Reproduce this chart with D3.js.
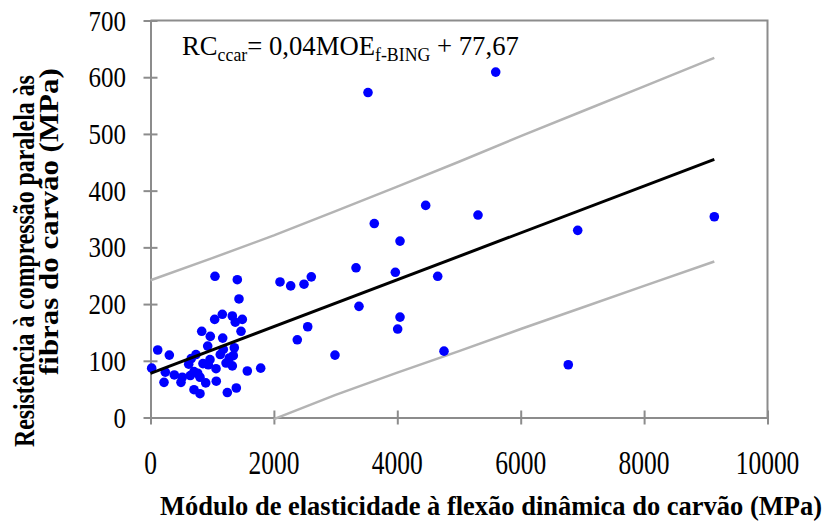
<!DOCTYPE html>
<html>
<head>
<meta charset="utf-8">
<script src="https://cdn.jsdelivr.net/npm/d3@7"></script>
<style>
  body { margin: 0; background: #fff; }
  text { font-family: "Liberation Serif", "Times New Roman", serif; fill: #000; }
</style>
</head>
<body>
<div id="chart"></div>
<script>
// values (MOE in MPa, RC in MPa)
var moe = [1045, 1407, 1434, 1164, 1040, 1326, 1374, 1488, 830, 1467, 969, 1170,
           117, 305, 927, 1358, 1342, 737, 1131, 661, 1277, 964, 619, 19, 937, 1224,
           1326, 1062, 1569, 1786, 240, 386, 515, 645, 765, 802, 219, 494, 895, 1066,
           705, 802, 1245, 1391, 705, 1180, 850,
           4460, 5308, 3627, 4044, 3331, 3968, 4655, 2099, 2272, 2488, 2606, 3379,
           4044, 4006, 2548, 2379, 2990, 4757, 5595, 3525, 6924, 9138, 6771];
var rc  = [249, 243, 209, 182, 173, 179, 168, 173, 152, 152, 143, 140,
           119, 110, 126, 123, 109, 111, 111, 104, 105, 102, 94, 87, 93, 96,
           91, 86, 82, 87, 80, 75, 71, 74, 78, 71, 62, 62, 61, 64,
           49, 42, 44, 52, 81, 120, 95,
           374, 357, 342, 311, 264, 256, 249, 239, 232, 235, 248, 196,
           177, 156, 160, 137, 110, 117, 609, 573, 330, 354, 93];

// regression RC = 0,04 MOE + 77,67
var fitIntercept = 77.67;
var fitSlope = 0.0413;
var fitRange = [0, 9138];

// prediction band
var bandX     = [0, 1000, 2000, 3000, 4000, 5000, 6000, 7000, 8000, 9138];
var bandUpper = [242, 281, 321, 364, 407, 451, 496, 540, 584, 634];
var bandLowX  = [2000, 3000, 4000, 5000, 6000, 7000, 8000, 9138];
var bandLower = [-3, 40, 79, 117, 156, 194, 232, 275];

var xTicks = [0, 2000, 4000, 6000, 8000, 10000];
var yTicks = [0, 100, 200, 300, 400, 500, 600, 700];

var W = 827, H = 521;
var svg = d3.select("#chart").append("svg").attr("width", W).attr("height", H);

var x = d3.scaleLinear().domain([0, 10000]).range([150.5, 767.5]);
var y = d3.scaleLinear().domain([0, 700]).range([417.5, 20.5]);

var axisCol = "#8c8c8c";

// frame top + right
svg.append("path")
   .attr("d", "M" + x(0) + "," + y(700) + "H" + x(10000) + "V" + y(0))
   .style("fill", "none").style("stroke", axisCol).style("stroke-width", 2);

// axes with ticks crossing the line
var xAxis = d3.axisBottom(x).tickValues(xTicks).tickSizeInner(14).tickSizeOuter(0).tickFormat("");
var yAxis = d3.axisLeft(y).tickValues(yTicks).tickSizeInner(14).tickSizeOuter(0).tickFormat("");

var gx = svg.append("g").attr("transform", "translate(0," + y(0) + ")").call(xAxis);
gx.selectAll(".tick line").attr("y1", -7).attr("y2", 7);
var gy = svg.append("g").attr("transform", "translate(" + x(0) + ",0)").call(yAxis);
gy.selectAll(".tick line").attr("x1", -7).attr("x2", 7);
svg.selectAll(".domain, .tick line").style("stroke", axisCol).style("stroke-width", 2);

// tick labels (glyphs in the picture are stretched vertically)
yTicks.forEach(function (v) {
  svg.append("text")
     .attr("transform", "translate(126," + (y(v) + 10) + ") scale(1,1.16)")
     .attr("text-anchor", "end").style("font-size", "25px")
     .text(v);
});
xTicks.forEach(function (v) {
  svg.append("text")
     .attr("transform", "translate(" + x(v) + ",474) scale(1,1.35)")
     .attr("text-anchor", "middle").style("font-size", "25.5px")
     .text(v);
});

// prediction band
var line = d3.line().x(function (d) { return x(d[0]); }).y(function (d) { return y(d[1]); });
svg.append("path").datum(d3.zip(bandX, bandUpper)).attr("d", line)
   .style("fill", "none").style("stroke", "#b4b4b4").style("stroke-width", 2.5);
svg.append("path").datum(d3.zip(bandLowX, bandLower)).attr("d", line)
   .style("fill", "none").style("stroke", "#b4b4b4").style("stroke-width", 2.5);

// points
svg.selectAll(".dot").data(d3.zip(moe, rc)).enter().append("circle")
   .attr("class", "dot")
   .attr("cx", function (d) { return x(d[0]); })
   .attr("cy", function (d) { return y(d[1]); })
   .attr("r", 4.8)
   .style("fill", "#0000ff");

// regression line
svg.append("path")
   .datum(fitRange.map(function (v) { return [v, fitIntercept + fitSlope * v]; }))
   .attr("d", line)
   .style("fill", "none").style("stroke", "#000").style("stroke-width", 3);

// squeeze a text horizontally so it spans the given width
function fitWidth(t, tx, ty, width, rot) {
  var w = t.node().getComputedTextLength();
  t.attr("transform", "translate(" + tx + "," + ty + ")" + (rot ? " rotate(" + rot + ")" : "") +
         " scale(" + (width / w) + ",1)");
}

// equation
var eq = svg.append("text").style("font-size", "27px");
eq.append("tspan").text("RC");
eq.append("tspan").attr("dy", 6).style("font-size", "18px").text("ccar");
eq.append("tspan").attr("dy", -6).text("= 0,04MOE");
eq.append("tspan").attr("dy", 6).style("font-size", "18px").text("f-BING");
eq.append("tspan").attr("dy", -6).text(" + 77,67");
fitWidth(eq, 182, 55, 337);

// axis titles
var xt = svg.append("text").style("font-size", "28px").style("font-weight", "bold")
   .text("Módulo de elasticidade à flexão dinâmica do carvão (MPa)");
fitWidth(xt, 160, 515, 662);

var yt1 = svg.append("text").style("font-size", "29px").style("font-weight", "bold")
   .text("Resistência à compressão paralela às");
fitWidth(yt1, 34, 447, 372, -90);
var yt2 = svg.append("text").style("font-size", "28px").style("font-weight", "bold")
   .text("fibras do carvão  (MPa)");
fitWidth(yt2, 58, 375, 307, -90);
</script>
</body>
</html>
